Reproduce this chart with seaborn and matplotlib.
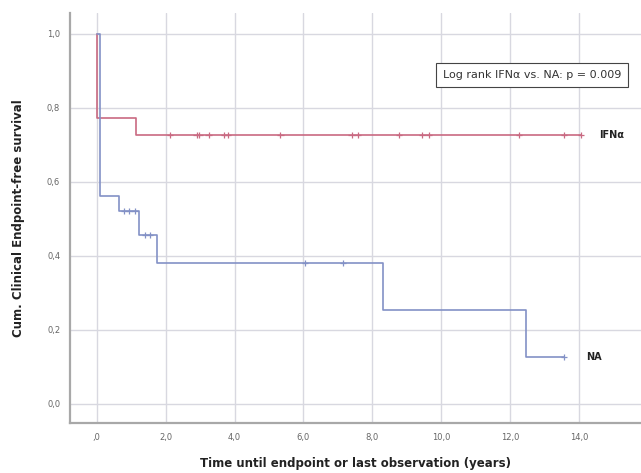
import matplotlib
matplotlib.use("Agg")
import matplotlib.pyplot as plt
import seaborn as sns
import pandas as pd

# Kaplan-Meier step curves: event times and survival level after each step
ifn_times = [0.0, 0.02, 1.13, 14.06]
ifn_surv = [1.0, 0.773, 0.727, 0.727]
na_times = [0.0, 0.09, 0.64, 1.22, 1.74, 8.3, 12.46, 13.56]
na_surv = [1.0, 0.562, 0.522, 0.457, 0.381, 0.254, 0.127, 0.127]

# Censored observations (time, survival level at that time)
ifn_cens_t = [2.12, 2.9, 2.98, 3.25, 3.7, 3.8, 5.33, 7.4, 7.57, 8.78, 9.45, 9.65, 12.26, 13.56, 14.06]
ifn_cens_s = [0.727] * len(ifn_cens_t)
na_cens_t = [0.8, 0.95, 1.1, 1.4, 1.55, 6.05, 7.15, 13.56]
na_cens_s = [0.522, 0.522, 0.522, 0.457, 0.457, 0.381, 0.381, 0.127]

groups = ["IFNα", "NA"]
x_ticks = [0, 2, 4, 6, 8, 10, 12, 14]
x_tick_labels = [",0", "2,0", "4,0", "6,0", "8,0", "10,0", "12,0", "14,0"]
y_ticks = [0.0, 0.2, 0.4, 0.6, 0.8, 1.0]
y_tick_labels = ["0,0", "0,2", "0,4", "0,6", "0,8", "1,0"]
logrank_text = "Log rank IFNα vs. NA: p = 0.009"

palette = {"IFNα": "#c96a82", "NA": "#8391c6"}

curves = pd.concat([
    pd.DataFrame({"group": groups[0], "time": ifn_times, "surv": ifn_surv}),
    pd.DataFrame({"group": groups[1], "time": na_times, "surv": na_surv}),
], ignore_index=True)
censored = pd.concat([
    pd.DataFrame({"group": groups[0], "time": ifn_cens_t, "surv": ifn_cens_s}),
    pd.DataFrame({"group": groups[1], "time": na_cens_t, "surv": na_cens_s}),
], ignore_index=True)

sns.set_theme(style="whitegrid")
plt.rcParams["font.family"] = ["DejaVu Sans"]

fig = plt.figure(figsize=(6.41, 4.73), dpi=100)
ax = fig.add_axes([0.109, 0.106, 0.891, 0.867])

sns.lineplot(data=curves, x="time", y="surv", hue="group", palette=palette,
             estimator=None, sort=False, drawstyle="steps-post",
             linewidth=1.2, legend=False, ax=ax)
sns.scatterplot(data=censored, x="time", y="surv", hue="group", palette=palette,
                marker="+", s=22, linewidth=0.9, legend=False, ax=ax, zorder=3)

ax.set_xlim(-0.78, 15.8)
ax.set_ylim(-0.051, 1.057)
ax.set_xticks(x_ticks)
ax.set_xticklabels(x_tick_labels)
ax.set_yticks(y_ticks)
ax.set_yticklabels(y_tick_labels)
ax.tick_params(axis="both", labelsize=6, colors="#666666", length=0, pad=7)

ax.grid(True, color="#d8d8e0", linewidth=1.0)
for side in ["top", "right"]:
    ax.spines[side].set_visible(False)
for side in ["left", "bottom"]:
    ax.spines[side].set_color("#a8a8a8")
    ax.spines[side].set_linewidth(1.6)

ax.set_xlabel("Time until endpoint or last observation (years)",
              fontsize=8.5, fontweight="bold", color="#222222", labelpad=11)
ax.set_ylabel("Cum. Clinical Endpoint-free survival",
              fontsize=8.5, fontweight="bold", color="#222222", labelpad=16)

ax.text(14.58, ifn_surv[-1], groups[0], fontsize=7, fontweight="bold",
        color="#222222", va="center", ha="left")
ax.text(14.2, na_surv[-1], groups[1], fontsize=7, fontweight="bold",
        color="#222222", va="center", ha="left")

ax.text(12.64, 0.889, logrank_text, fontsize=8, color="#333333",
        ha="center", va="center",
        bbox=dict(boxstyle="square,pad=0.6", facecolor="white",
                  edgecolor="#444444", linewidth=0.8))

fig.savefig("out.png", dpi=100)
